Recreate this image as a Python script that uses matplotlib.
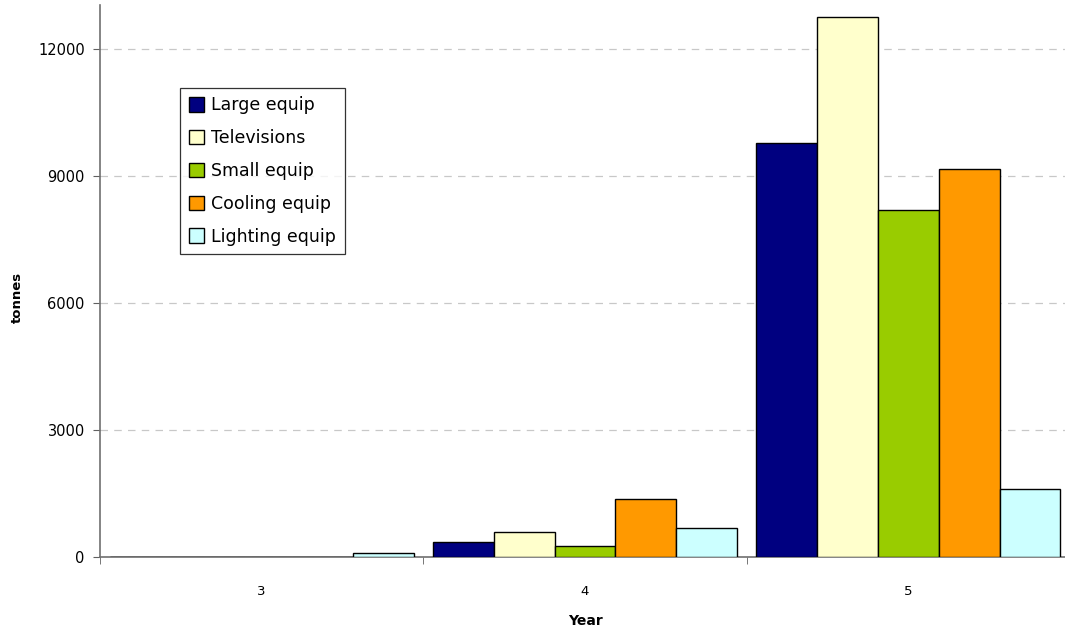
import numpy as np
import matplotlib.pyplot as plt
from matplotlib.ticker import MultipleLocator

years = ['3', '4', '5']
series = ['Large equip', 'Televisions', 'Small equip', 'Cooling equip', 'Lighting equip']
large_equip = [0, 360, 9780]
televisions = [0, 600, 12750]
small_equip = [0, 260, 8200]
cooling_equip = [0, 1370, 9170]
lighting_equip = [90, 680, 1610]
colors = ['#000080', '#FFFFCC', '#99CC00', '#FF9900', '#CCFFFF']

values = [large_equip, televisions, small_equip, cooling_equip, lighting_equip]

plt.rcParams['font.family'] = ['DejaVu Sans']

fig = plt.figure(figsize=(10.65, 6.30), dpi=100)
ax = fig.add_axes([100 / 1065, 73 / 630, 970 / 1065, 552 / 630])

x = np.arange(len(years))
w = 0.188
for i, (name, vals, c) in enumerate(zip(series, values, colors)):
    ax.bar(x + (i - 2) * w, vals, width=w, color=c, edgecolor='black',
           linewidth=1.0, label=name, zorder=3)

ax.set_xlim(-0.5, 2.5)
ax.set_ylim(0, 13030)
ax.yaxis.set_major_locator(MultipleLocator(3000))
ax.grid(axis='y', color='#c8c8c8', linestyle=(0, (6, 5)), linewidth=0.9, zorder=0)

ax.set_xticks(x)
ax.set_xticklabels(years, fontsize=9.5)
ax.set_xticks([-0.5, 0.5, 1.5, 2.5], minor=True)
ax.tick_params(axis='x', which='major', length=0, pad=20)
ax.tick_params(axis='x', which='minor', length=5, direction='out', color='#606060')
ax.tick_params(axis='y', labelsize=10.5, length=5, direction='out', color='#606060', pad=6)

for s in ['top', 'right']:
    ax.spines[s].set_visible(False)
for s in ['left', 'bottom']:
    ax.spines[s].set_color('#707070')
    ax.spines[s].set_linewidth(1.2)

ax.set_ylabel('tonnes', fontsize=9.5, fontweight='bold')
ax.yaxis.set_label_coords(-0.078, 0.47)
ax.set_xlabel('Year', fontsize=10, fontweight='bold', labelpad=12)

leg = ax.legend(loc='upper left', bbox_to_anchor=(0.0825, 0.85),
                fontsize=12.5, frameon=True, fancybox=False, edgecolor='black',
                handlelength=0.9, handleheight=0.9, handletextpad=0.4,
                labelspacing=0.85, borderpad=0.5, borderaxespad=0)
leg.get_frame().set_linewidth(0.9)

fig.savefig('out.png', dpi=100)
